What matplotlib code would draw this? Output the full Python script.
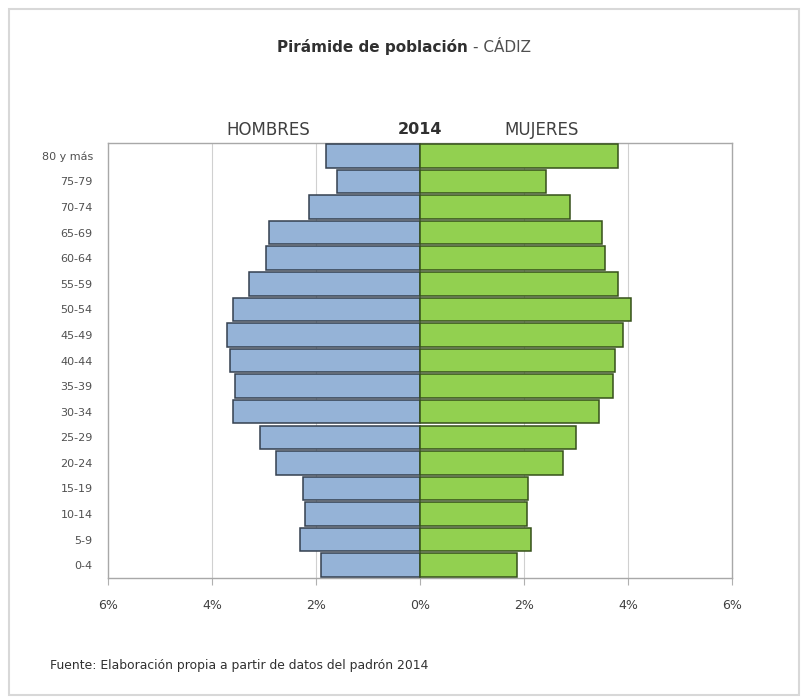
import matplotlib
matplotlib.use("Agg")
from matplotlib import pyplot as plt
from matplotlib.patches import Rectangle

# age groups, bottom to top
grupos = ["0-4", "5-9", "10-14", "15-19", "20-24", "25-29", "30-34", "35-39",
          "40-44", "45-49", "50-54", "55-59", "60-64", "65-69", "70-74",
          "75-79", "80 y más"]
hombres = [1.90, 2.31, 2.21, 2.25, 2.77, 3.08, 3.60, 3.56, 3.65, 3.71, 3.60,
           3.29, 2.96, 2.90, 2.13, 1.60, 1.81]
mujeres = [1.87, 2.13, 2.06, 2.07, 2.75, 3.00, 3.44, 3.71, 3.75, 3.91, 4.06,
           3.81, 3.56, 3.50, 2.88, 2.42, 3.81]
xticks = [-6, -4, -2, 0, 2, 4, 6]
xticklabels = ["6%", "4%", "2%", "0%", "2%", "4%", "6%"]

fig = plt.figure(figsize=(8.02, 6.98), dpi=100)
ax = fig.add_axes([0.1347, 0.1719, 0.778, 0.6232])

y = range(len(grupos))
ax.barh(y, [-v for v in hombres], height=0.92, color="#95b3d7",
        edgecolor="#34404f", linewidth=1.1, zorder=3)
ax.barh(y, mujeres, height=0.92, color="#92d050",
        edgecolor="#35501a", linewidth=1.1, zorder=3)

ax.set_xlim(-6, 6)
ax.set_ylim(-0.5, len(grupos) - 0.5)
ax.set_xticks(xticks)
ax.set_xticklabels(xticklabels, fontsize=9, color="#404040")
ax.set_yticks(list(y))
ax.set_yticklabels(grupos, fontsize=8, color="#505050")
ax.tick_params(axis="y", length=0, pad=11)
ax.tick_params(axis="x", length=5, color="#b0b0b0", pad=10)
for x in [-4, -2, 2, 4]:
    ax.axvline(x, color="#d0d0d0", linewidth=0.8, zorder=1)
for s in ax.spines.values():
    s.set_color("#a8a8a8")
    s.set_linewidth(1.0)

fig.text(0.583, 0.932, "Pirámide de población", ha="right", va="center",
         fontsize=11, fontweight="bold", color="#303030")
fig.text(0.590, 0.932, "- CÁDIZ", ha="left", va="center",
         fontsize=11, color="#505050")
fig.text(268 / 802, 1 - 130 / 698, "HOMBRES", ha="center", va="center",
         fontsize=12, color="#404040")
fig.text(420 / 802, 1 - 130 / 698, "2014", ha="center", va="center",
         fontsize=11.5, fontweight="bold", color="#303030")
fig.text(542 / 802, 1 - 130 / 698, "MUJERES", ha="center", va="center",
         fontsize=12, color="#404040")
fig.text(50 / 802, 1 - 666 / 698,
         "Fuente: Elaboración propia a partir de datos del padrón 2014",
         ha="left", va="center", fontsize=8.9, color="#303030")

fig.patches.append(Rectangle((9 / 802, 3 / 698), 790 / 802, 686 / 698,
                             transform=fig.transFigure, fill=False,
                             edgecolor="#d8d8d8", linewidth=1.5))

fig.savefig("out.png", dpi=100)
